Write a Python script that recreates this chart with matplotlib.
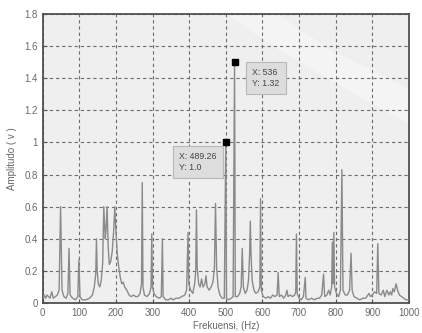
import numpy as np
import matplotlib
matplotlib.use("Agg")
import matplotlib.pyplot as plt
from matplotlib.patches import Polygon

plt.rcParams['font.family'] = ['Liberation Sans', 'DejaVu Sans']

# spectrum vertices (Hz, volt)
freq = [0, 4, 8, 12, 16, 20, 25, 29, 35, 40, 45, 49, 53, 58, 64, 69, 72, 75, 82, 90,
        96, 99, 102, 108, 118, 128, 136, 141, 145, 147, 149, 152, 156, 160, 164, 167,
        171, 173, 176, 179, 182, 186, 190, 194, 197, 200, 204, 208, 212, 216, 220, 224,
        230, 236, 242, 248, 254, 260, 266, 270, 272, 274, 278, 285, 292, 296, 298, 300,
        304, 310, 318, 324, 327, 329, 336, 344, 350, 356, 364, 372, 380, 388, 393, 397,
        399, 404, 410, 415, 418, 420, 422, 426, 430, 434, 438, 443, 446, 449, 455, 460,
        465, 469, 472, 475, 479, 484, 490, 496, 500, 502, 508, 515, 520, 524, 526, 532,
        538, 542, 545, 548, 553, 558, 562, 565, 567, 569, 572, 577, 582, 588, 593, 595,
        597, 602, 610, 616, 622, 628, 634, 640, 643, 646, 652, 658, 664, 667, 670, 676,
        682, 688, 691, 693, 695, 700, 706, 712, 717, 719, 726, 734, 742, 750, 756, 762,
        767, 770, 776, 781, 785, 789, 791, 793, 795, 797, 802, 808, 813, 817, 820, 826,
        832, 838, 842, 845, 850, 858, 866, 874, 882, 888, 891, 895, 900, 906, 912, 915,
        918, 924, 930, 934, 940, 945, 949, 953, 956, 960, 965, 969, 974, 980, 986, 992,
        1000]
amp = [0.03, 0.05, 0.03, 0.05, 0.04, 0.03, 0.07, 0.03, 0.04, 0.05, 0.08, 0.60, 0.08, 0.04,
       0.03, 0.06, 0.34, 0.05, 0.03, 0.02, 0.04, 0.27, 0.04, 0.02, 0.02, 0.03, 0.05, 0.10,
       0.18, 0.40, 0.20, 0.12, 0.10, 0.14, 0.25, 0.60, 0.40, 0.45, 0.60, 0.35, 0.24, 0.26,
       0.32, 0.45, 0.60, 0.45, 0.30, 0.22, 0.16, 0.12, 0.13, 0.10, 0.08, 0.05, 0.04, 0.05,
       0.04, 0.04, 0.06, 0.12, 0.75, 0.10, 0.05, 0.04, 0.06, 0.10, 0.43, 0.10, 0.06, 0.04,
       0.03, 0.04, 0.40, 0.04, 0.02, 0.02, 0.03, 0.02, 0.03, 0.03, 0.04, 0.05, 0.08, 0.44,
       0.12, 0.08, 0.06, 0.12, 0.20, 0.58, 0.22, 0.12, 0.10, 0.15, 0.10, 0.12, 0.17, 0.10,
       0.08, 0.10, 0.13, 0.22, 0.62, 0.22, 0.10, 0.05, 0.03, 0.03, 1.00, 0.03, 0.02, 0.03,
       0.04, 1.50, 0.04, 0.04, 0.06, 0.10, 0.34, 0.10, 0.06, 0.08, 0.14, 0.30, 0.51, 0.30,
       0.14, 0.08, 0.06, 0.07, 0.10, 0.65, 0.08, 0.04, 0.03, 0.04, 0.03, 0.05, 0.04, 0.05,
       0.19, 0.04, 0.05, 0.03, 0.05, 0.08, 0.04, 0.05, 0.04, 0.05, 0.07, 0.43, 0.06, 0.03,
       0.02, 0.04, 0.16, 0.03, 0.02, 0.03, 0.02, 0.03, 0.03, 0.05, 0.18, 0.04, 0.05, 0.08,
       0.05, 0.10, 0.38, 0.12, 0.44, 0.10, 0.06, 0.04, 0.08, 0.83, 0.08, 0.05, 0.05, 0.08,
       0.31, 0.08, 0.04, 0.03, 0.02, 0.03, 0.03, 0.05, 0.06, 0.04, 0.05, 0.07, 0.06, 0.37,
       0.06, 0.05, 0.08, 0.04, 0.08, 0.05, 0.07, 0.05, 0.09, 0.07, 0.12, 0.08, 0.05, 0.04,
       0.03, 0.02, 0.02]

# data tips: marker position and label text
tip_x = [500, 524]
tip_y = [1.00, 1.50]
tip_text = ["X: 489.26\nY: 1.0", "X: 536\nY: 1.32"]
tip_box = [(372, 0.88), (572, 1.40)]

fig = plt.figure(figsize=(4.22, 3.33), dpi=100)
ax = fig.add_axes([0.101, 0.090, 0.868, 0.868])
ax.set_facecolor("#efefef")

# faint watermark swoosh
swoosh = Polygon([(0.50, 1.0), (0.64, 1.0), (0.78, 0.88), (1.0, 0.74), (1.0, 0.62),
                  (0.80, 0.76), (0.64, 0.88)],
                 closed=True, transform=ax.transAxes, facecolor="white",
                 edgecolor="none", alpha=0.35, zorder=0)
ax.add_patch(swoosh)

ax.plot(freq, amp, color="#8a8a8a", lw=1.0, zorder=3)
ax.plot(tip_x, tip_y, "s", color="black", ms=5, zorder=5)
for (bx, by), t in zip(tip_box, tip_text):
    ax.text(bx, by, t, fontsize=6.3, color="#444444", va="center", ha="left",
            linespacing=1.3, zorder=6,
            bbox=dict(boxstyle="square,pad=0.7", facecolor="#dddddd",
                      edgecolor="#b8b8b8", lw=0.8))

ax.set_xlim(0, 1000)
ax.set_ylim(0, 1.8)
ax.set_xticks(np.arange(0, 1001, 100))
ax.set_yticks(np.arange(0, 1.81, 0.2))
ax.set_yticklabels(["0", "0.2", "0.4", "0.6", "0.8", "1", "1.2", "1.4", "1.6", "1.8"])
ax.grid(True, color="#6e6e6e", ls=(0, (3, 2.6)), lw=0.8, zorder=1)
ax.tick_params(direction="in", length=3, colors="#555555", labelsize=7,
               labelcolor="#6a6a6a")
for s in ax.spines.values():
    s.set_color("#505050")
    s.set_linewidth(1.3)

ax.set_xlabel("Frekuensi, (Hz)", fontsize=7, color="#666666", labelpad=2)
ax.set_ylabel("Amplitudo ( v )", fontsize=7, color="#666666", labelpad=5)

fig.savefig("out.png", dpi=100)
